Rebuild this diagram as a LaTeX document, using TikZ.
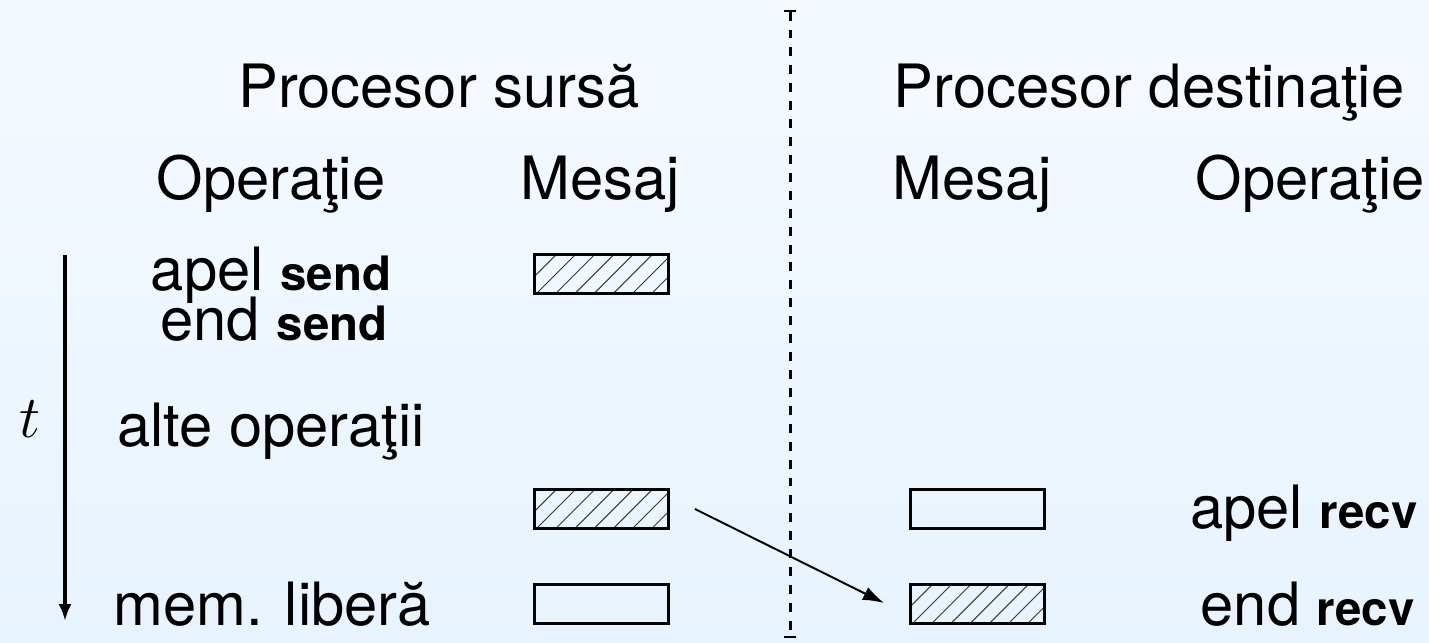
\RequirePackage{fix-cm}
\documentclass[tikz,border=0pt]{standalone}
\usepackage{fontspec}
\setmainfont{TeX Gyre Heros}
\usetikzlibrary{arrows.meta,calc}
\definecolor{bgtop}{RGB}{245,250,255}
\definecolor{bgbot}{RGB}{231,243,254}
\definecolor{hatchc}{RGB}{55,55,55}
\newcommand\bsm[1]{{\bfseries\fontsize{27}{30}\selectfont #1}}
\newcommand\hatchit[1]{%
  \begin{scope}
    \clip (#1.south west) rectangle (#1.north east);
    \foreach \k in {-3,...,7}
      \draw[hatchc,line width=0.55pt] ($(#1.south west)+(2+19.2*\k,0)$) -- ++(50,-50);
  \end{scope}
  \node[msgbox] at (#1) {};}
\begin{document}
\begin{tikzpicture}[x=0.02cm,y=-0.02cm,
  lab/.style={inner sep=0pt,font=\fontsize{34}{40}\selectfont},
  msgbox/.style={draw,line width=1.7pt,minimum width=2.68cm,minimum height=0.78cm,inner sep=0pt},
  sep/.style={line width=1.7pt,dash pattern=on 5.1pt off 5.1pt,{Bar[width=6.3pt,line width=1.2pt]}-{Bar[width=6.3pt,line width=1.2pt]}},
  timearrow/.style={line width=1.9pt,-{Latex[length=9.6pt,width=7.4pt]}},
  msgarrow/.style={line width=1.1pt,-{Latex[length=12pt,width=8pt]}}
  ]
\useasboundingbox (0,0) rectangle (1429,642);
\shade[top color=bgtop,bottom color=bgbot] (0,0) rectangle (1429,642);

% headers
\node[lab,anchor=base] (ps) at (439,108) {Procesor sursă};
\node[lab,anchor=base] (pd) at (1149,108) {Procesor destinaţie};
\node[lab,anchor=base] (opl) at (271,199) {Operaţie};
\node[lab,anchor=base] (msl) at (600,199) {Mesaj};
\node[lab,anchor=base] (msr) at (972,199) {Mesaj};
\node[lab,anchor=base] (opr) at (1310,199) {Operaţie};

% operations
\node[lab,anchor=base] (as) at (271,290) {apel \bsm{send}};
\node[lab,anchor=base] (es) at (274,340) {end \bsm{send}};
\node[lab,anchor=base west] (ao) at (117,446) {alte operaţii};
\node[lab,anchor=base east] (ar) at (1418,528) {apel \bsm{recv}};
\node[lab,anchor=base west] (ml) at (113,625) {mem. liberă};
\node[lab,anchor=base east] (er) at (1415,625) {end \bsm{recv}};

% message boxes
\node[msgbox] (s1) at (601.5,274) {};
\node[msgbox] (s2) at (601.5,509) {};
\node[msgbox] (s3) at (601.5,604) {};
\node[msgbox] (r2) at (977.5,509) {};
\node[msgbox] (r3) at (977.5,604) {};
\hatchit{s1}
\hatchit{s2}
\hatchit{r3}

% separator
\coordinate (top) at (790,10);
\coordinate (bot) at (790,638);
\draw[sep] (top) -- (bot);

% time axis
\coordinate (t0) at (65,255);
\coordinate (t1) at (65,621);
\draw[timearrow] (t0) -- (t1);
\node[inner sep=0pt,font=\fontsize{34}{40}\selectfont] (t) at (30,419) {$t$};

% message transfer
\draw[msgarrow] ([shift={(25,0)}]s2.east) -- ([shift={(-25,-1)}]r3.west);
\end{tikzpicture}
\end{document}
